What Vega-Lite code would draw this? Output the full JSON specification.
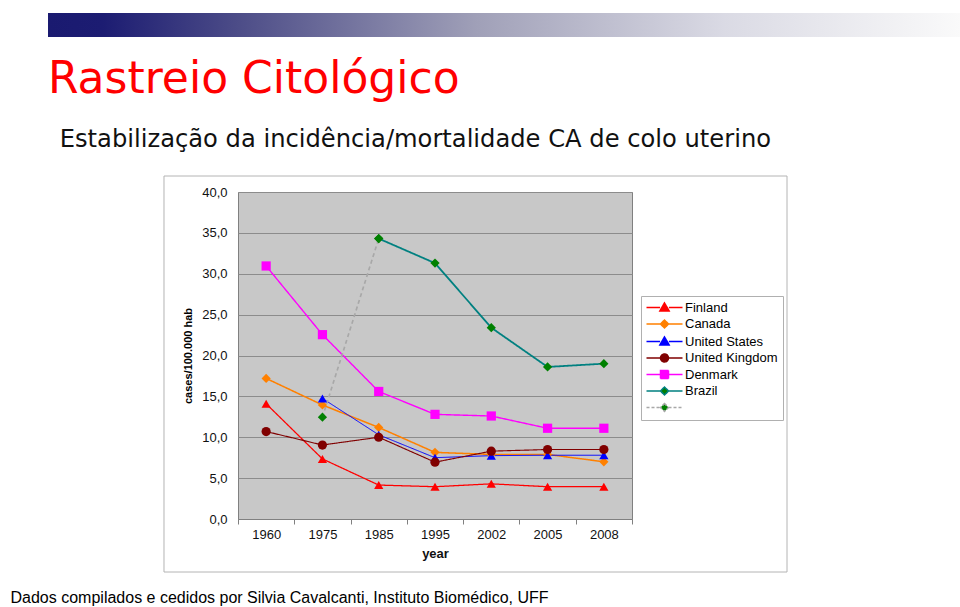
{
  "$schema": "https://vega.github.io/schema/vega-lite/v6.json",
  "padding": {"left": 10, "top": 13, "right": 0, "bottom": 0},
  "background": "white",
  "config": {
    "font": "Liberation Sans",
    "view": {"stroke": null}
  },
  "title": {
    "text": "Dados compilados e cedidos por Silvia Cavalcanti, Instituto Biomédico, UFF",
    "orient": "bottom",
    "anchor": "start",
    "frame": "bounds",
    "dx": -37,
    "offset": 17,
    "fontSize": 16,
    "fontWeight": "normal",
    "color": "#000000",
    "font": "Liberation Sans"
  },
  "columns": 1,
  "spacing": 20,
  "concat": [
    {
      "width": 723,
      "height": 24,
      "data": {"values": [{"item": "banner"}]},
      "mark": {
        "type": "rect",
        "clip": false,
        "fill": {
          "gradient": "linear",
          "x1": 0, "y1": 0, "x2": 1, "y2": 0,
          "stops": [
            {"offset": 0, "color": "#1a1a70"},
            {"offset": 0.06, "color": "#1c1c72"},
            {"offset": 0.21, "color": "#4d4d88"},
            {"offset": 0.47, "color": "#a0a0b8"},
            {"offset": 0.74, "color": "#dadae4"},
            {"offset": 1, "color": "#fafafa"}
          ]
        }
      },
      "encoding": {
        "x": {"datum": 0, "type": "quantitative", "scale": {"domain": [0.2081, 1], "nice": false, "zero": false}, "axis": null},
        "x2": {"datum": 1}
      }
    },
    {
      "hconcat": [
        {
          "width": 394,
          "height": 327,
          "view": {"fill": "#c8c8c8", "stroke": "#808080"},
          "title": {
            "text": "Rastreio Citológico",
            "subtitle": "\u200b\u00a0\u2006Estabilização da incidência/mortalidade CA de colo uterino",
            "anchor": "start",
            "frame": "group",
            "dx": -190,
            "offset": 23,
            "fontSize": 44,
            "fontWeight": "normal",
            "color": "#ff0000",
            "font": "DejaVu Sans",
            "subtitleFont": "DejaVu Sans",
            "subtitleFontSize": 24.2,
            "subtitleColor": "#111111",
            "subtitlePadding": 26
          },
          "resolve": {"scale": {"x": "independent", "y": "independent"}},
          "layer": [
            {
              "data": {"values": [{"item": "chart frame"}]},
              "mark": {"type": "rect", "filled": false, "color": "#b4b4b4", "strokeWidth": 1, "clip": false},
              "encoding": {
                "x": {"datum": 0, "type": "quantitative", "scale": {"domain": [0.1188, 0.7512], "nice": false, "zero": false}, "axis": null},
                "x2": {"datum": 1},
                "y": {"datum": 0, "type": "quantitative", "scale": {"domain": [0.13384, 0.9596], "nice": false, "zero": false}, "axis": null},
                "y2": {"datum": 1}
              }
            },
            {
              "data": {
                "values": [
                  {"series": "Finland", "year": 1960, "value": 14.1},
                  {"series": "Finland", "year": 1975, "value": 7.35},
                  {"series": "Finland", "year": 1985, "value": 4.15},
                  {"series": "Finland", "year": 1995, "value": 3.95},
                  {"series": "Finland", "year": 2002, "value": 4.3},
                  {"series": "Finland", "year": 2005, "value": 3.95},
                  {"series": "Finland", "year": 2008, "value": 3.95},
                  {"series": "Canada", "year": 1960, "value": 17.2},
                  {"series": "Canada", "year": 1975, "value": 13.95},
                  {"series": "Canada", "year": 1985, "value": 11.2},
                  {"series": "Canada", "year": 1995, "value": 8.15},
                  {"series": "Canada", "year": 2002, "value": 7.9},
                  {"series": "Canada", "year": 2005, "value": 7.9},
                  {"series": "Canada", "year": 2008, "value": 7.0},
                  {"series": "United States", "year": 1975, "value": 14.75},
                  {"series": "United States", "year": 1985, "value": 10.3},
                  {"series": "United States", "year": 1995, "value": 7.5},
                  {"series": "United States", "year": 2002, "value": 7.75},
                  {"series": "United States", "year": 2005, "value": 7.8},
                  {"series": "United States", "year": 2008, "value": 7.8},
                  {"series": "United Kingdom", "year": 1960, "value": 10.7},
                  {"series": "United Kingdom", "year": 1975, "value": 9.05},
                  {"series": "United Kingdom", "year": 1985, "value": 10.0},
                  {"series": "United Kingdom", "year": 1995, "value": 6.95},
                  {"series": "United Kingdom", "year": 2002, "value": 8.3},
                  {"series": "United Kingdom", "year": 2005, "value": 8.5},
                  {"series": "United Kingdom", "year": 2008, "value": 8.5},
                  {"series": "Denmark", "year": 1960, "value": 30.95},
                  {"series": "Denmark", "year": 1975, "value": 22.55},
                  {"series": "Denmark", "year": 1985, "value": 15.6},
                  {"series": "Denmark", "year": 1995, "value": 12.8},
                  {"series": "Denmark", "year": 2002, "value": 12.6},
                  {"series": "Denmark", "year": 2005, "value": 11.1},
                  {"series": "Denmark", "year": 2008, "value": 11.1},
                  {"series": "Brazil", "year": 1985, "value": 34.3},
                  {"series": "Brazil", "year": 1995, "value": 31.3},
                  {"series": "Brazil", "year": 2002, "value": 23.4},
                  {"series": "Brazil", "year": 2005, "value": 18.6},
                  {"series": "Brazil", "year": 2008, "value": 19.0},
                  {"series": "Brazil 1975", "year": 1975, "value": 12.45},
                  {"series": "Brazil 1975", "year": 1985, "value": 34.3}
                ]
              },
              "encoding": {
                "x": {
                  "field": "year",
                  "type": "ordinal",
                  "scale": {"type": "band", "paddingInner": 0, "paddingOuter": 0},
                  "axis": {
                    "labelAngle": 0,
                    "tickBand": "extent",
                    "ticks": true,
                    "tickSize": 5,
                    "tickColor": "#808080",
                    "domainColor": "#808080",
                    "grid": false,
                    "labelPadding": 4,
                    "labelFontSize": 13,
                    "labelColor": "#111111",
                    "title": "year",
                    "titleFontWeight": "bold",
                    "titleFontSize": 13,
                    "titleColor": "#111111",
                    "titlePadding": 6
                  }
                },
                "y": {
                  "field": "value",
                  "type": "quantitative",
                  "scale": {"domain": [0, 40], "nice": false, "zero": true},
                  "axis": {
                    "values": [0, 5, 10, 15, 20, 25, 30, 35, 40],
                    "labelExpr": "replace(format(datum.value, '.1f'), '.', ',')",
                    "grid": true,
                    "gridColor": "#8c8c8c",
                    "ticks": false,
                    "domain": false,
                    "labelPadding": 11,
                    "labelFontSize": 13,
                    "labelColor": "#111111",
                    "title": "cases/100.000 hab",
                    "titleFont": "Liberation Sans",
                    "titleFontWeight": "bold",
                    "titleFontSize": 11,
                    "titleColor": "#000000",
                    "titlePadding": 8
                  }
                }
              },
              "layer": [
                {
                  "mark": {"type": "line"},
                  "encoding": {
                    "stroke": {
                      "field": "series",
                      "type": "nominal",
                      "scale": {
                        "domain": ["Brazil", "Brazil 1975", "Canada", "Denmark", "Finland", "United Kingdom", "United States"],
                        "range": ["#008080", "#a8a8a8", "#ff8000", "#ff00ff", "#ff0000", "#800000", "#0000ff"]
                      },
                      "legend": null
                    },
                    "strokeDash": {
                      "field": "series",
                      "type": "nominal",
                      "scale": {
                        "domain": ["Brazil", "Brazil 1975", "Canada", "Denmark", "Finland", "United Kingdom", "United States"],
                        "range": [[1, 0], [4, 3], [1, 0], [1, 0], [1, 0], [1, 0], [1, 0]]
                      },
                      "legend": null
                    },
                    "strokeWidth": {
                      "field": "series",
                      "type": "nominal",
                      "scale": {
                        "domain": ["Brazil", "Brazil 1975", "Canada", "Denmark", "Finland", "United Kingdom", "United States"],
                        "range": [1.8, 1, 1.8, 1.8, 1.8, 1.8, 1.8]
                      },
                      "legend": null
                    }
                  }
                },
                {
                  "mark": {"type": "point", "filled": true, "opacity": 1, "size": 85},
                  "encoding": {
                    "color": {
                      "field": "series",
                      "type": "nominal",
                      "scale": {
                        "domain": ["Finland", "Canada", "United States", "United Kingdom", "Denmark", "Brazil", "Brazil 1975"],
                        "range": ["#ff0000", "#ff8000", "#0000ff", "#800000", "#ff00ff", "#008000", "#008000"]
                      },
                      "legend": {
                        "orient": "none",
                        "legendX": 403,
                        "legendY": 283,
                        "title": null,
                        "fillColor": "#ffffff",
                        "strokeColor": "#b0b0b0",
                        "padding": 5,
                        "symbolSize": 64,
                        "symbolOffset": 12,
                        "labelOffset": 14,
                        "labelFontSize": 13,
                        "labelColor": "#000000",
                        "rowPadding": 1.5,
                        "labelExpr": "datum.value === 'Brazil 1975' ? '' : datum.label",
                        "encoding": {
                          "symbols": {
                            "shape": {"value": {"expr": "['M-4.5,0L-1.1,0M1.1,0L4.5,0M0,-1.15L1.15,0.85L-1.15,0.85Z','M-4.5,0L-1,0M1,0L4.5,0M0,-1L1,0L0,1L-1,0Z','M-4.5,0L-1.1,0M1.1,0L4.5,0M0,-1.15L1.15,0.85L-1.15,0.85Z','M-4.5,0L-1,0M1,0L4.5,0M-1,0A1,1,0,1,0,1,0A1,1,0,1,0,-1,0Z','M-4.5,0L-1,0M1,0L4.5,0M-1,-1L1,-1L1,1L-1,1Z','M-4.5,0L-1,0M1,0L4.5,0M0,-1L1,0L0,1L-1,0Z','M-4.5,0L-1,0M1,0L4.5,0M0,-1L1,0L0,1L-1,0Z'][indexof(['Finland','Canada','United States','United Kingdom','Denmark','Brazil','Brazil 1975'], datum.value)]"}},
                            "stroke": {"value": {"expr": "['#ff0000','#ff8000','#0000ff','#800000','#ff00ff','#008080','#a8a8a8'][indexof(['Finland','Canada','United States','United Kingdom','Denmark','Brazil','Brazil 1975'], datum.value)]"}},
                            "fill": {"value": {"expr": "['#ff0000','#ff8000','#0000ff','#800000','#ff00ff','#008000','#008000'][indexof(['Finland','Canada','United States','United Kingdom','Denmark','Brazil','Brazil 1975'], datum.value)]"}},
                            "strokeDash": {"value": {"expr": "datum.value === 'Brazil 1975' ? [3, 2] : [1, 0]"}},
                            "strokeWidth": {"value": 1.5},
                            "size": {"value": 64},
                            "opacity": {"value": 1}
                          }
                        }
                      }
                    },
                    "shape": {
                      "field": "series",
                      "type": "nominal",
                      "scale": {
                        "domain": ["Brazil", "Brazil 1975", "Canada", "Denmark", "Finland", "United Kingdom", "United States"],
                        "range": ["diamond", "diamond", "diamond", "square", "triangle-up", "circle", "triangle-up"]
                      },
                      "legend": null
                    }
                  }
                }
              ]
            }
          ]
        }
      ]
    }
  ]
}
